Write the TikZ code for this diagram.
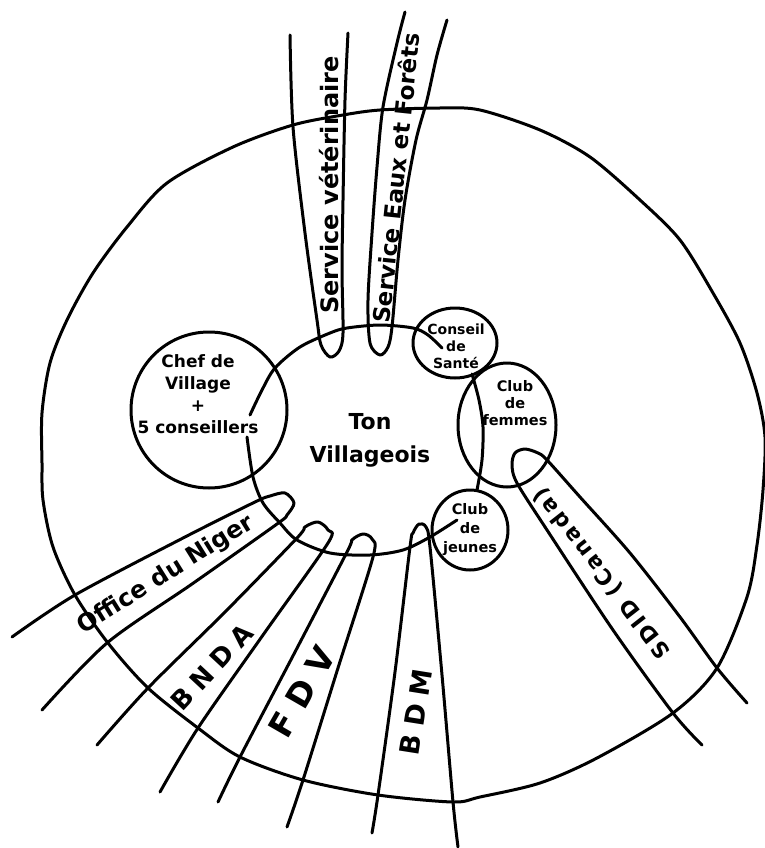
\documentclass[tikz,border=0pt]{standalone}
\usepackage{fontspec}
\setmainfont{DejaVu Sans}
\usepackage{tikz}
\newcommand{\fsz}[2]{\fontsize{#1}{#2}\selectfont\bfseries}
\newcommand{\spaced}[1]{\addfontfeature{LetterSpace=#1}}

\begin{document}
\begin{tikzpicture}[x=1pt, y=-1pt, line width=3pt, line cap=round, line join=round,
    lbl/.style={inner sep=0pt, align=center}]
    \useasboundingbox (0,0) rectangle (765,848);

    % Outer circle
    \draw plot[smooth cycle] coordinates {(293,125) (343,115) (380,110) (440,108) (480,110)
        (540,130) (590,157) (640,200) (680,240) (713,293) (740,343) (757,393) (765,437)
        (763,490) (757,545) (747,597) (717,668) (673,713) (597,758) (540,783) (480,797)
        (453,802) (378,795) (303,780) (240,757) (198,728) (148,688) (108,643) (75,595)
        (53,547) (43,500) (42,463) (42,413) (50,363) (67,320) (93,273) (127,227)
        (167,183) (233,147)};

    % Ton villageois (inner ring, in three pieces)
    \draw plot[smooth] coordinates {(250,415) (262,390) (275,368) (300,347) (330,333)
        (347,328) (380,325) (413,328) (428,335) (442,348)};
    \draw plot[smooth] coordinates {(472,374) (479,400) (483,427) (482,460) (477,490)};
    \draw plot[smooth] coordinates {(457,520) (430,537) (403,550) (370,555) (330,553)
        (297,540) (280,523) (263,503) (253,477) (247,437)};
    \node[lbl, font=\fsz{22}{33}] (ton) at (370,440) {Ton\\Villageois};

    % Small circles
    \draw (209,410) circle [radius=78pt];
    \node[lbl, font=\fsz{17}{22}] (chef) at (198,394) {Chef de\\Village\\+\\5 conseillers};
    \draw (455,343) ellipse [x radius=42pt, y radius=35pt];
    \node[lbl, font=\fsz{14}{17}] (sante) at (456,346) {Conseil\\de\\Santé};
    \draw (507,425) ellipse [x radius=49pt, y radius=62pt];
    \node[lbl, font=\fsz{14.5}{17}] (femmes) at (515,403) {Club\\de\\femmes};
    \draw (470,530) ellipse [x radius=38pt, y radius=40pt];
    \node[lbl, font=\fsz{14.5}{19}] (jeunes) at (470,530) {Club\\de\\jeunes};

    % Top bands
    \draw plot[smooth] coordinates {(290,35) (293,127) (305,233) (317,320) (321,345)
        (330,357) (339,351) (343,333) (342,270) (343,200) (345,100) (348,33)};
    \node[lbl, rotate=90, font=\fsz{24}{26}] (veto) at (329,185) {Service vétérinaire};
    \draw plot[smooth] coordinates {(405,12) (397,43) (383,107) (377,167) (372,233)
        (368,300) (370,343) (380,355) (388,347) (392,327) (398,260) (405,200) (416,140)
        (427,100) (437,55) (447,20)};
    \node[lbl, rotate=84, font=\fsz{23}{25}] (eaux) at (396,178) {Service Eaux et Forêts};

    % Bottom bands
    \draw plot[smooth] coordinates {(12,637) (75,595) (185,537) (255,502) (270,496)
        (285,493) (294,503) (287,515) (277,524) (192,584) (107,643) (42,710)};
    \node[lbl, rotate=32, font=\fsz{24}{26}] (niger) at (166,575) {Office du Niger};
    \draw plot[smooth] coordinates {(97,745) (148,688) (225,612) (297,538) (305,527)
        (318,522) (328,530) (328,543) (263,635) (198,728) (160,792)};
    \node[lbl, rotate=47, font=\fsz{26}{28}\spaced{30}] (bnda) at (212,667) {BNDA};
    \draw plot[smooth] coordinates {(218,802) (240,757) (295,652) (347,552) (352,540)
        (363,534) (372,539) (373,557) (338,668) (303,780) (287,827)};
    \node[lbl, rotate=60, font=\fsz{33}{35}\spaced{35}] (fdv) at (302,692) {FDV};
    \draw plot[smooth] coordinates {(372,833) (378,795) (395,672) (410,547) (413,533)
        (419,524) (426,527) (430,547) (442,675) (453,802) (458,847)};
    \node[lbl, rotate=81, font=\fsz{27}{29}\spaced{30}] (bdm) at (416,712) {BDM};
    \draw plot[smooth] coordinates {(702,745) (673,713) (613,630) (547,530) (517,483)
        (512,465) (515,453) (525,449) (538,453) (547,460) (580,497) (630,553) (680,617)
        (717,668) (747,703)};
    \node[lbl, rotate=128, font=\fsz{22}{24}\spaced{12}] (sdid) at (602,573) {SDID (Canada)};
\end{tikzpicture}
\end{document}
